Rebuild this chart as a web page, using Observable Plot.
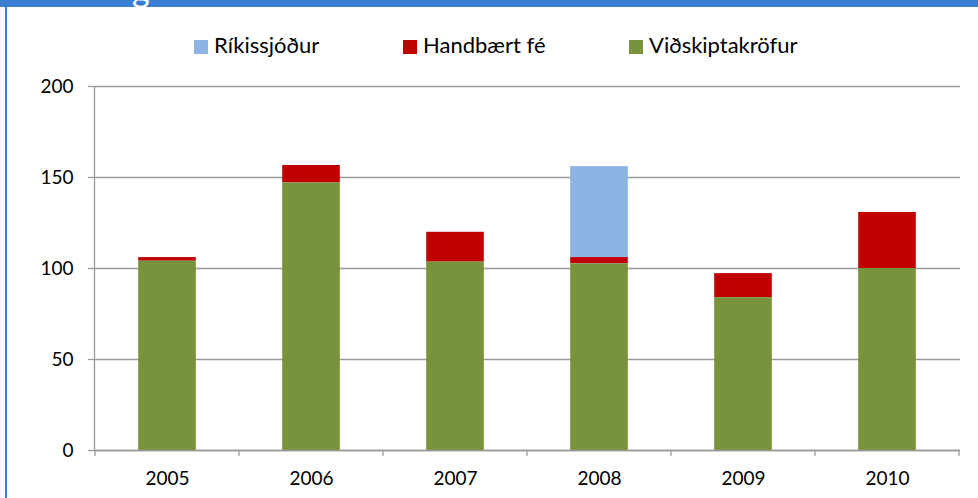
<!DOCTYPE html>
<html>
<head>
<meta charset="utf-8">
<script src="https://cdn.jsdelivr.net/npm/d3@7"></script>
<script src="https://cdn.jsdelivr.net/npm/@observablehq/plot@0.6"></script>
<style>
  html, body { margin: 0; padding: 0; background: #fff; }
  #page { position: relative; width: 978px; height: 498px; overflow: hidden; background: #fff; font-family: Lato, "Open Sans", sans-serif; }
  #band { position: absolute; left: 0; top: 0; width: 978px; height: 7px; background: #3a7fd1; overflow: hidden; }
  #band span { position: absolute; left: 132px; top: -28px; color: #fff; font-size: 34px; line-height: 34px; }
  #lborder { position: absolute; left: 5px; top: 0; width: 2px; height: 498px; background: #3a7fd1; }
  .leg { position: absolute; top: 33px; height: 24px; line-height: 24px; font-size: 22px; color: #000; white-space: nowrap; padding-left: 20px; }
  .leg i { position: absolute; left: 0; top: 7px; width: 14px; height: 14px; }
  #chart { position: absolute; left: 0; top: 60px; }
</style>
</head>
<body>
<div id="page">
  <div id="band"><span>g</span></div>
  <div id="lborder"></div>
  <div id="legend"></div>
  <div id="chart"></div>
</div>
<script>
const years = ["2005", "2006", "2007", "2008", "2009", "2010"];
const seriesNames = ["Ríkissjóður", "Handbært fé", "Viðskiptakröfur"];
const seriesColors = ["#8eb4e3", "#c00000", "#77933c"];
const rikissjodur = [0, 0, 0, 50, 0, 0];
const handbaertFe = [2, 9.6, 16.4, 3.4, 13.2, 30.8];
const vidskiptakrofur = [104, 147, 103.5, 102.6, 84, 100];
const yTicks = [0, 50, 100, 150, 200];
const legendLeft = [194, 403, 629];

const seriesValues = [rikissjodur, handbaertFe, vidskiptakrofur];
const data = [];
seriesNames.forEach((s, k) => years.forEach((y, i) => data.push({year: y, series: s, value: seriesValues[k][i]})));

// legend
const leg = document.getElementById("legend");
seriesNames.forEach((s, k) => {
  const d = document.createElement("div");
  d.className = "leg";
  d.style.left = legendLeft[k] + "px";
  d.innerHTML = `<i style="background:${seriesColors[k]}"></i>${s}`;
  leg.appendChild(d);
});

const axisColor = "#9a9a9a";

const edgeTicks = (index, scales, values, dim) => {
  const x = scales.x, y = scales.y;
  const g = d3.create("svg:g").attr("stroke", axisColor).attr("stroke-width", 1.3);
  const y0 = y(0);
  const bw = x.bandwidth();
  const xs = years.map(v => x(v)).concat([x(years[years.length - 1]) + bw]);
  xs.forEach(px => g.append("line").attr("x1", px).attr("x2", px).attr("y1", y0).attr("y2", y0 + 6));
  const left = x(years[0]) - 0.5;
  g.append("line").attr("x1", left).attr("x2", left).attr("y1", y(200)).attr("y2", y0);
  return g.node();
};

const chart = Plot.plot({
  width: 978,
  height: 438,
  marginTop: 26,
  marginBottom: 48,
  marginLeft: 94,
  marginRight: 18,
  style: {fontFamily: "Lato, 'Open Sans', sans-serif", fontSize: "19px", color: "#000", background: "transparent"},
  x: {type: "band", domain: years, padding: 0, label: null},
  y: {domain: [0, 200], label: null},
  color: {domain: seriesNames, range: seriesColors},
  marks: [
    Plot.gridY(yTicks, {stroke: axisColor, strokeOpacity: 1, strokeWidth: 1.3}),
    Plot.axisY(yTicks, {tickSize: 6, tickPadding: 15, stroke: axisColor, strokeWidth: 1.3, label: null, fill: "#000"}),
    Plot.axisX({tickSize: 0, tickPadding: 21, label: null, fill: "#000"}),
    Plot.barY(data, {x: "year", y: "value", fill: "series", order: ["Viðskiptakröfur", "Handbært fé", "Ríkissjóður"], insetLeft: 43.2, insetRight: 43.2}),
    Plot.ruleY([0], {stroke: axisColor, strokeWidth: 1.3}),
    edgeTicks
  ]
});
document.getElementById("chart").appendChild(chart);
</script>
</body>
</html>
